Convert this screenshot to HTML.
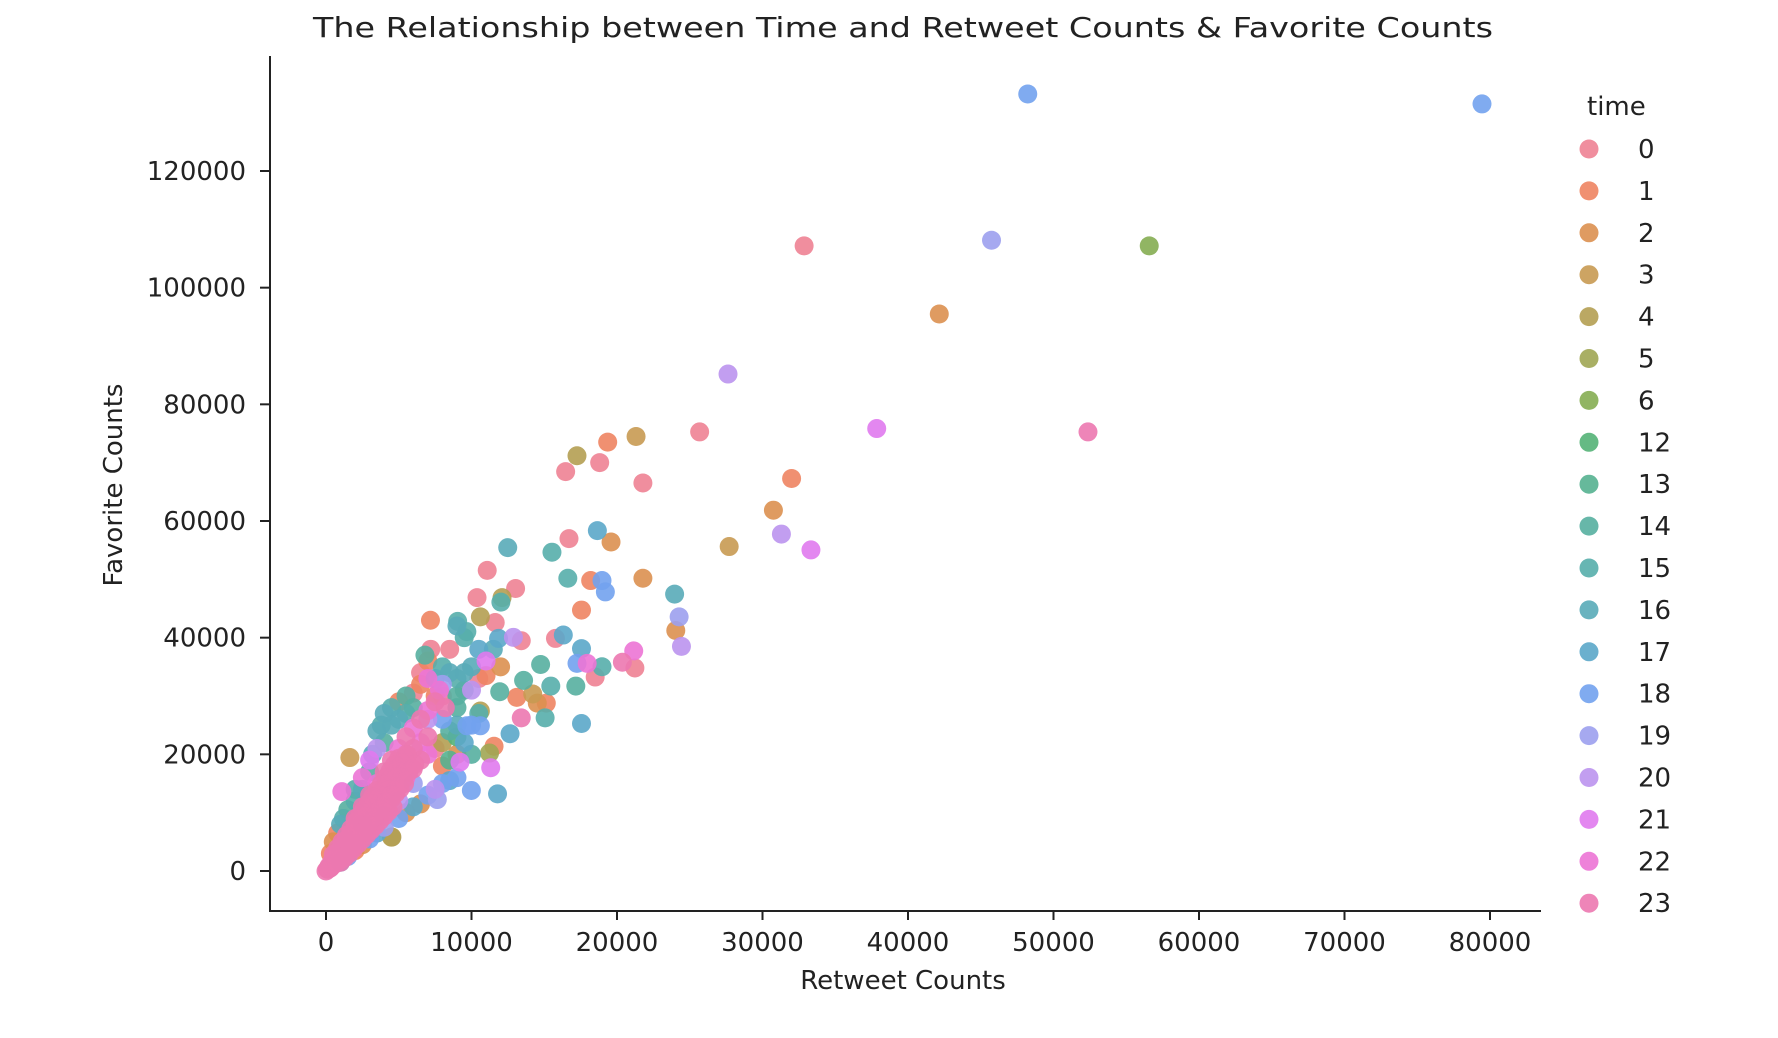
<!DOCTYPE html>
<html><head><meta charset="utf-8"><style>
html,body{margin:0;padding:0;background:#fff;}
svg{display:block;font-family:"DejaVu Sans","Liberation Sans",sans-serif;}
</style></head><body>
<svg id="chart" width="1778" height="1038" viewBox="0 0 1778 1038">
<text x="903" y="37" font-size="28" text-anchor="middle" textLength="1180" lengthAdjust="spacingAndGlyphs" fill="#222">The Relationship between Time and Retweet Counts &amp; Favorite Counts</text>
<text x="903" y="989" font-size="26" text-anchor="middle" fill="#222">Retweet Counts</text>
<text transform="translate(122,485) rotate(-90)" font-size="26" text-anchor="middle" fill="#222">Favorite Counts</text>
<g id="marks"></g>
<g id="axes"></g>
<g id="legend"></g>
</svg>
<script>
const xTicks = [0,10000,20000,30000,40000,50000,60000,70000,80000];
const yTicks = [0,20000,40000,60000,80000,100000,120000];
const hours = [0,1,2,3,4,5,6,12,13,14,15,16,17,18,19,20,21,22,23];
const colors = ["#ee8294","#ee8462","#dc9050","#c89a52","#b49f52","#a0a653","#85ad52","#54b277","#55b190","#56afa0","#57aeab","#59abb8","#5ba7c9","#72a2ee","#9ca0ee","#bb93ee","#e07aee","#ec74d5","#ec78b0"];
const rt = [100,300,500,700,900,1200,1500,1800,2000,2200,2500,2800,3000,3200,3500,3800,4000,4200,4500,4800,5000,5300,5500,6000,6500,7000,
1000,1500,2000,2500,3000,3500,4000,4500,5000,5500,6000,6500,7000,7500,8000,8500,9000,
300,500,800,1000,1200,1500,2000,2500,3000,3200,3500,3800,4000,4500,5000,5500,6000,6500,6800,7000,7200,7500,8000,8500,9000,9500,10000,10500,11000,12000,8000,7800,8200,7000,
2000,2500,3000,3500,4000,4500,5000,5500,6000,6500,7000,7500,3000,3500,4000,4500,5000,5500,6000,6500,7000,7500,8000,8500,9000,9500,10000,9000,8000,8500,9000,6000,5000,4000,3000,2500,1500,1000,700,400,200,
5000,6000,5500,4500,4000,3500,3000,2500,2000,6500,7500,9500,8000,9000,10000,10500,11000,9500,9000,8500,7000,8000,11500,9000,10500,10000,
48230,79450,32860,45740,56580,42150,27630,37850,52370,25680,21310,19360,17250,18810,16470,21780,32000,30750,27710,31300,33330,18650,19590,16700,12490,15530,11080,13030,16620,18190,18970,19200,21780,23960,10380,12100,12020,10610,7180,17560,24270,24040,24430,9050,9680,11630,16310,11860,12880,13420,15770,17560,21150,20370,21230,18970,17250,17950,18500,14750,13580,15450,17170,11940,14210,14520,15140,13110,13420,15060,17560,12650,10610,9680,10610,11550,11240,1640,11320,9210,9990,11790,7650,4530,1090,
200,400,600,800,1000,1200,1400,1600,1800,2000,2200,2400,2600,2800,3000,3200,3400,3600,3800,4000,4200,4400,4600,4800,5000,5200,5400,5600,
300,600,900,1200,1500,1800,2100,2400,2700,3000,3300,3600,3900,4200,4500,4800,5100,5400,
500,800,1100,1400,1700,2000,2300,2600,2900,3200,3500,3800,4100,4400,4700,5000,
1000,1300,1600,1900,2200,2500,2800,3100,3400,3700,4000,4300,4600,
0,150,350,550,750,950,1300,1700,2100,2500,2900,3300,3700,4100,4500,4900,5300,5700,6100];
const fav = [300,900,1800,2200,3000,3800,5000,6000,6500,7500,8000,9500,10500,11000,12500,13000,14000,15500,16000,17500,18000,19000,20000,21000,22000,23000,
1500,2500,3500,4500,5500,6500,7500,5800,9000,10000,11000,11500,13000,14000,15000,15500,16000,
3000,5000,6500,8000,9000,10500,12000,14000,17000,20000,24000,25000,27000,28000,29000,30000,30500,32000,37000,36000,38000,33000,35000,34000,33000,31000,31000,33000,33500,35000,30000,31000,28000,26000,
9000,11000,13000,15000,17000,19000,21000,23000,24500,26000,27500,29000,8500,10000,11500,13000,14500,16000,17500,19000,20000,21000,22000,24000,25000,22000,20000,20000,18000,19000,23000,15000,12000,9500,7000,6000,4000,3500,1500,1200,600,
26000,28000,27000,25000,22000,21000,19000,16000,14000,34000,30000,34000,26000,30000,35000,38000,36000,40000,42000,38000,33000,32000,38000,28000,27000,25000,
133200,131500,107160,108130,107160,95490,85190,75850,75270,75270,74490,73520,71180,70010,68460,66520,67290,61850,55620,57760,55040,58350,56400,56980,55430,54650,51540,48430,50180,49790,49790,47840,50180,47460,46870,46870,46090,43560,42980,44730,43560,41230,38510,42790,41040,42590,40450,39870,40060,39480,39870,38120,37730,35780,34810,35010,35590,35590,33250,35400,32670,31700,31700,30730,30340,28780,28780,29760,26250,26250,25280,23530,27420,24890,24890,21390,20220,19450,17700,18670,13810,13220,12250,5830,13610,
800,1600,2300,3000,3800,4500,5200,5900,6600,7300,8000,8700,9400,10100,10800,11500,12200,12900,13600,14300,15000,15700,16400,17100,17800,18500,19200,19900,
500,1400,2200,3100,3900,4800,5600,6500,7300,8200,9000,9900,10700,11600,12400,13300,14100,15000,
2800,3900,5000,6100,7200,8300,9400,10500,11600,12700,13800,14900,16000,17100,18200,19300,
1500,2300,3000,3800,4600,5400,6200,7000,7800,8600,9400,10200,11000,
0,300,700,1100,1500,1900,2600,4000,5300,6600,7900,9200,10500,11800,13100,14400,15700,17000,18300];
const hr = [0,23,22,0,1,23,15,23,22,23,16,23,22,23,23,22,23,23,22,23,23,22,23,23,22,23,
17,18,1,2,18,17,19,4,18,2,17,2,18,20,18,17,18,
1,2,1,16,15,14,15,16,14,16,16,15,16,15,1,14,0,1,14,1,0,16,15,16,15,14,20,0,1,2,0,22,23,20,
23,23,23,22,23,23,22,23,22,23,22,23,23,23,22,23,23,22,23,23,22,0,4,14,16,17,14,2,1,13,12,19,20,21,22,0,23,22,23,23,22,
16,14,15,16,14,20,21,22,15,0,1,16,18,14,16,17,21,15,16,0,22,19,16,14,15,18,
18,18,0,19,6,2,20,21,23,0,3,1,4,0,0,0,1,2,3,20,21,17,2,0,16,15,0,0,15,1,18,18,2,16,0,4,15,4,1,1,19,2,20,15,15,0,17,17,20,0,0,17,22,23,0,15,18,22,0,14,14,15,14,14,3,2,1,1,23,15,17,17,4,18,18,1,5,3,21,21,18,17,19,4,22,
23,23,23,23,23,23,23,23,23,23,23,23,23,23,23,23,23,23,23,23,23,23,23,23,23,23,23,23,
23,23,23,23,23,23,23,23,23,23,23,23,23,23,23,23,23,23,
23,23,23,23,23,23,23,23,23,23,23,23,23,23,23,23,
23,23,23,23,23,23,23,23,23,23,23,23,23,
23,23,23,23,23,23,23,23,23,23,23,23,23,23,23,23,23,23,23];

const NS="http://www.w3.org/2000/svg";
const X0=326, XS=1164/80000, Y0=871, YS=700/120000;
function xs(v){return X0+v*XS;}
function ys(v){return Y0-v*YS;}
function el(t,a,p){const e=document.createElementNS(NS,t);for(const k in a)e.setAttribute(k,a[k]);p.appendChild(e);return e;}

const marks=document.getElementById('marks');
const order=rt.map((_,i)=>i).sort((a,b)=>hours.indexOf(hr[a])-hours.indexOf(hr[b]));
order.forEach(i=>{
  const c=el('circle',{cx:xs(rt[i]),cy:ys(fav[i]),r:9.5,fill:colors[hours.indexOf(hr[i])],'fill-opacity':0.9},marks);
  
  
});

const axes=document.getElementById('axes');
const ySp=el('line',{x1:270,y1:56,x2:270,y2:911,stroke:'#222','stroke-width':2},axes);


const xSp=el('line',{x1:269,y1:911,x2:1541,y2:911,stroke:'#222','stroke-width':2},axes);


xTicks.forEach(v=>{
  const t=el('line',{x1:xs(v),y1:911,x2:xs(v),y2:920,stroke:'#222','stroke-width':2},axes);
  
  
  const l=el('text',{x:xs(v),y:951,'font-size':26,'text-anchor':'middle',fill:'#222'},axes);
  l.textContent=v;
  
  
});
yTicks.forEach(v=>{
  const t=el('line',{x1:260,y1:ys(v),x2:270,y2:ys(v),stroke:'#222','stroke-width':2},axes);
  
  
  const l=el('text',{x:246,y:ys(v)+9,'font-size':26,'text-anchor':'end',fill:'#222'},axes);
  l.textContent=v;
  
  
});

const lg=document.getElementById('legend');
const lt=el('text',{x:1587,y:115,'font-size':26,fill:'#222'},lg);
lt.textContent='time';


hours.forEach((h,k)=>{
  const y=149+k*41.9;
  const c=el('circle',{cx:1589,cy:y,r:9.5,fill:colors[k],'fill-opacity':0.9},lg);
  
  
  const t=el('text',{x:1638,y:y+9,'font-size':26,fill:'#222'},lg);
  t.textContent=h;
  
  
});
</script>
</body></html>
